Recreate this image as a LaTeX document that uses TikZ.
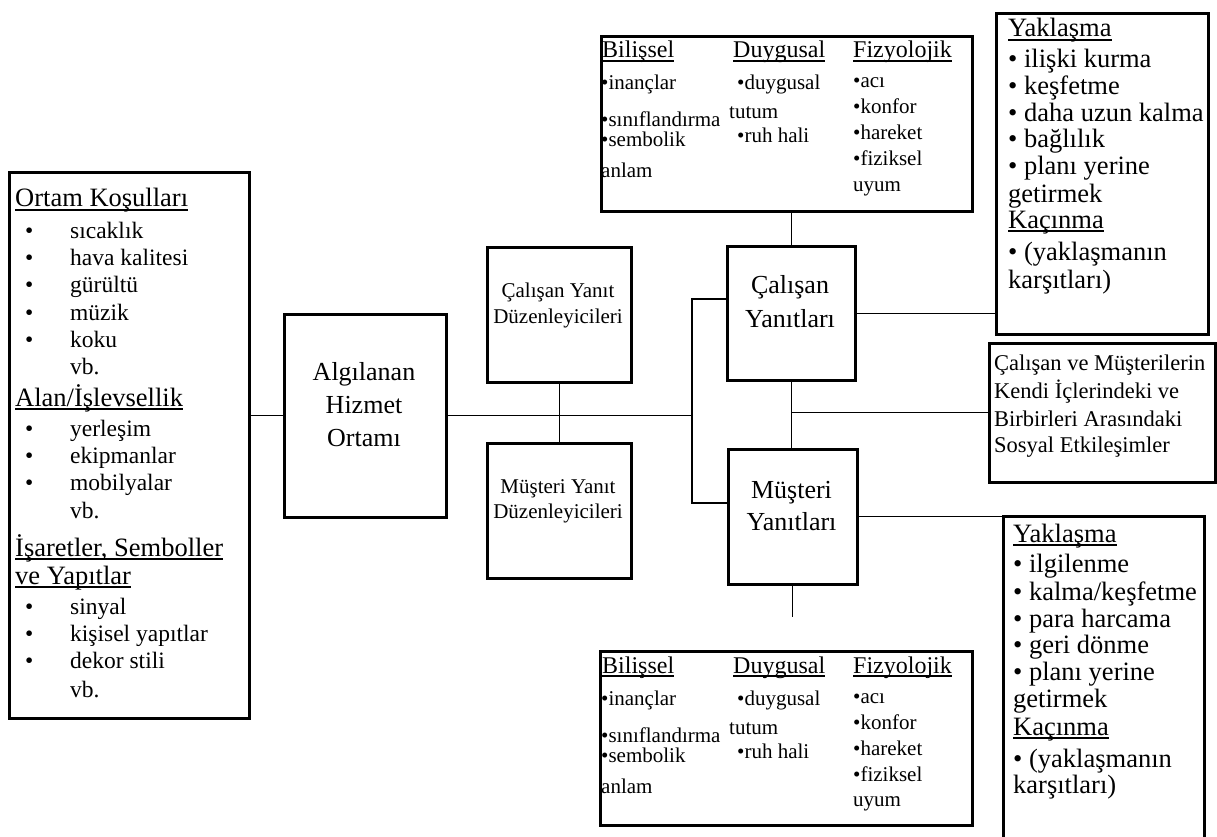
\documentclass[tikz,border=0pt]{standalone}
\usepackage{fontspec}
\setmainfont{Liberation Serif}
\newcommand\myul[1]{\setbox0\hbox{#1}\rlap{\rule[-3.6pt]{\wd0}{1.3pt}}\box0}
\newcommand\fH{\fontsize{26.5}{30}\selectfont}
\newcommand\fI{\fontsize{23.5}{27}\selectfont}
\newcommand\fR{\fontsize{26.5}{30}\selectfont}
\newcommand\fM{\fontsize{24}{27}\selectfont}
\newcommand\fS{\fontsize{21}{24}\selectfont}
\newcommand\fC{\fontsize{26}{30}\selectfont}
\newcommand\fX{\fontsize{22.5}{26}\selectfont}
\tikzset{
  box/.style={draw, line width=2.6pt, inner sep=0pt, anchor=north west},
  conn/.style={line width=1.3pt},
  txt/.style={inner sep=0pt, anchor=base west},
  ctxt/.style={inner sep=0pt, anchor=base},
}
% left list item: name, y, text
\newcommand\li[3]{\node[txt,font=\fI] (#1b) at (25,#2) {•};\node[txt,font=\fI] (#1) at (70,#2) {#3};}
\newcommand\bilgi[2]{%
  \node[txt,font=\fM] (#1a) at (602,{58+#2}) {\myul{Bilişsel}};
  \node[txt,font=\fS] (#1b) at (601,{90+#2}) {•inançlar};
  \node[txt,font=\fS] (#1c) at (601,{127+#2}) {•sınıflandırma};
  \node[txt,font=\fS] (#1d) at (601,{147+#2}) {•sembolik};
  \node[txt,font=\fS] (#1e) at (601,{178+#2}) {anlam};
  \node[txt,font=\fM] (#1f) at (733,{58+#2}) {\myul{Duygusal}};
  \node[txt,font=\fS] (#1g) at (737,{90+#2}) {•duygusal};
  \node[txt,font=\fS] (#1h) at (729,{119+#2}) {tutum};
  \node[txt,font=\fS] (#1i) at (737,{143+#2}) {•ruh hali};
  \node[txt,font=\fM] (#1j) at (853,{58+#2}) {\myul{Fizyolojik}};
  \node[txt,font=\fS] (#1k) at (853,{88+#2}) {•acı};
  \node[txt,font=\fS] (#1l) at (853,{114+#2}) {•konfor};
  \node[txt,font=\fS] (#1m) at (853,{140+#2}) {•hareket};
  \node[txt,font=\fS] (#1n) at (853,{166+#2}) {•fiziksel};
  \node[txt,font=\fS] (#1o) at (853,{191+#2}) {uyum};
}
\begin{document}
\begin{tikzpicture}[x=1pt,y=-1pt]
\useasboundingbox (0,0) rectangle (1217,837);
\clip (0,0) rectangle (1217,837);

% boxes
\node[box, minimum width=240pt, minimum height=546pt] (env) at (8,171) {};
\node[box, minimum width=162pt, minimum height=203pt] (alg) at (283,313) {};
\node[box, minimum width=144pt, minimum height=135pt] (cyd) at (486,246) {};
\node[box, minimum width=144pt, minimum height=135pt] (myd) at (486,442) {};
\node[box, minimum width=128pt, minimum height=134pt] (cy) at (726,245) {};
\node[box, minimum width=129pt, minimum height=135pt] (my) at (727,448) {};
\node[box, minimum width=371pt, minimum height=175pt] (topmid) at (600,35) {};
\node[box, minimum width=372pt, minimum height=174pt] (botmid) at (599,650) {};
\node[box, minimum width=212pt, minimum height=321pt] (topright) at (995,12) {};
\node[box, minimum width=226pt, minimum height=139pt] (sosyal) at (988,342) {};
\node[box, minimum width=201pt, minimum height=340pt] (botright) at (1002,515) {};

% connectors
\coordinate (jt) at (692,299);
\coordinate (jb) at (692,503);
\coordinate (mye) at (792,617);
\draw[conn] (env.east |- alg.west) -- (alg.west);
\draw[conn] (alg.east) -- (alg.east -| jt);
\draw[conn] (cy.west |- jt) -- (jt) -- (jb) -- (my.west |- jb);
\draw[conn] (cyd.south) -- (myd.north);
\draw[conn] (cy.north) -- (cy.north |- topmid.south);
\draw[conn] (cy.south) -- (cy.south |- my.north);
\draw[conn] (sosyal.west -| cy.south) -- (sosyal.west);
\draw[conn] (cy.east) -- (cy.east -| topright.west);
\draw[conn] (my.east) -- (my.east -| botright.west);
\draw[conn] (my.south) -- (my.south |- mye);

% left box text
\node[txt,font=\fH] (h1) at (15,207) {\myul{Ortam Koşulları}};
\li{l1}{238}{sıcaklık}
\li{l2}{265}{hava kalitesi}
\li{l3}{292}{gürültü}
\li{l4}{320}{müzik}
\li{l5}{347}{koku}
\node[txt,font=\fI] (l6) at (70,374) {vb.};
\node[txt,font=\fH] (h2) at (15,406) {\myul{Alan/İşlevsellik}};
\li{l7}{436}{yerleşim}
\li{l8}{463}{ekipmanlar}
\li{l9}{490}{mobilyalar}
\node[txt,font=\fI] (l10) at (70,518) {vb.};
\node[txt,font=\fH] (h3) at (15,556) {\myul{İşaretler, Semboller}};
\node[txt,font=\fH] (h4) at (15,584) {\myul{ve Yapıtlar}};
\li{l11}{614}{sinyal}
\li{l12}{641}{kişisel yapıtlar}
\li{l13}{668}{dekor stili}
\node[txt,font=\fI] (l14) at (70,697) {vb.};

% centre texts
\node[ctxt,font=\fC] (a1) at (364,380) {Algılanan};
\node[ctxt,font=\fC] (a2) at (364,413) {Hizmet};
\node[ctxt,font=\fC] (a3) at (364,446) {Ortamı};
\node[ctxt,font=\fS] (c1) at (558,297) {Çalışan Yanıt};
\node[ctxt,font=\fS] (c2) at (558,323) {Düzenleyicileri};
\node[ctxt,font=\fS] (m1) at (558,493) {Müşteri Yanıt};
\node[ctxt,font=\fS] (m2) at (558,518) {Düzenleyicileri};
\node[ctxt,font=\fC] (y1) at (790,293) {Çalışan};
\node[ctxt,font=\fC] (y2) at (790,327) {Yanıtları};
\node[ctxt,font=\fC] (y3) at (791.5,498) {Müşteri};
\node[ctxt,font=\fC] (y4) at (791.5,530) {Yanıtları};

% top / bottom middle
\bilgi{tm}{0}
\bilgi{bm}{615}

% top right
\node[txt,font=\fR] (r1) at (1008,37) {\myul{Yaklaşma}};
\node[txt,font=\fR] (r2) at (1008,68) {• ilişki kurma};
\node[txt,font=\fR] (r3) at (1008,95) {• keşfetme};
\node[txt,font=\fR] (r4) at (1008,122) {• daha uzun kalma};
\node[txt,font=\fR] (r5) at (1008,148) {• bağlılık};
\node[txt,font=\fR] (r6) at (1008,175) {• planı yerine};
\node[txt,font=\fR] (r7) at (1008,203) {getirmek};
\node[txt,font=\fR] (r8) at (1008,228) {\myul{Kaçınma}};
\node[txt,font=\fR] (r9) at (1008,260) {• (yaklaşmanın};
\node[txt,font=\fR] (r10) at (1008,288) {karşıtları)};

% social
\node[txt,font=\fX] (s1) at (994,370) {Çalışan ve Müşterilerin};
\node[txt,font=\fX] (s2) at (994,398) {Kendi İçlerindeki ve};
\node[txt,font=\fX] (s3) at (994,426) {Birbirleri Arasındaki};
\node[txt,font=\fX] (s4) at (994,452) {Sosyal Etkileşimler};

% bottom right
\node[txt,font=\fR] (q1) at (1013,542) {\myul{Yaklaşma}};
\node[txt,font=\fR] (q2) at (1013,572) {• ilgilenme};
\node[txt,font=\fR] (q3) at (1013,600) {• kalma/keşfetme};
\node[txt,font=\fR] (q4) at (1013,627) {• para harcama};
\node[txt,font=\fR] (q5) at (1013,653) {• geri dönme};
\node[txt,font=\fR] (q6) at (1013,680) {• planı yerine};
\node[txt,font=\fR] (q7) at (1013,707) {getirmek};
\node[txt,font=\fR] (q8) at (1013,735) {\myul{Kaçınma}};
\node[txt,font=\fR] (q9) at (1013,767) {• (yaklaşmanın};
\node[txt,font=\fR] (q10) at (1013,793) {karşıtları)};
\end{tikzpicture}
\end{document}
